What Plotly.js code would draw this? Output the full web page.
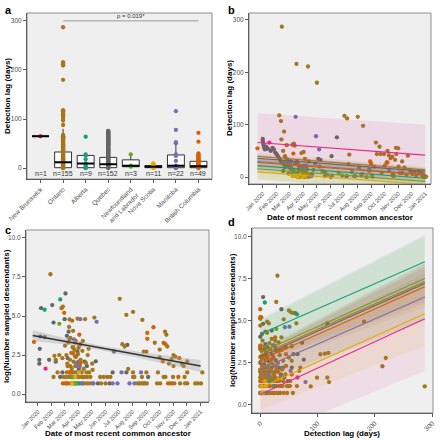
<!DOCTYPE html>
<html><head><meta charset="utf-8">
<script src="https://cdn.plot.ly/plotly-3.0.1.min.js"></script>
<style>html,body{margin:0;padding:0;background:#fff}#chart{width:440px;height:440px}</style>
</head><body><div id="chart"></div>
<script>
// ---------- shared categories ----------
const provinces = ["New Brunswick","Ontario","Alberta","Quebec","Newfoundland and Labrador","Nova Scotia","Manitoba","British Columbia"];
const provinceTicks = ["New Brunswick","Ontario","Alberta","Quebec","Newfoundland<br>and Labrador","Nova Scotia","Manitoba","British Columbia"];
const provinceColors = ["#e7298a","#a6761d","#1b9e77","#666666","#66a61e","#e6ab02","#7570b3","#d95f02"];
const provinceN = [1,155,9,152,3,11,22,49];
const monthTicks = ["2020-01-01","2020-02-01","2020-03-01","2020-04-01","2020-05-01","2020-06-01","2020-07-01","2020-08-01","2020-09-01","2020-10-01","2020-11-01","2020-12-01","2021-01-01"];

// ---------- panel a: boxes ----------
const boxQ1 = [65,1,1,1,3,1,1,1];
const boxMedian = [65,12,9.5,8,5,3,5,4];
const boxQ3 = [65,33,26,22,17,5.5,27,14];
const boxLower = [65,0,0,0,3,0,0,0];
const boxUpper = [65,80,28,52,28,10,53,30];
const pValueText = "p = 0.019*";
const pValueY = 300;

const lagNB = [65];
const lagON = [287,216,213,211,209,180,118,116,113,110,107,105,100,97,88,68,66,65,64,63,62,61,60,58,56,55,54,52,50,48,47,46,45,44,43,42,41,40,39,38,37,36,35,34,33,32,31,30,29,28,27,26,25,24,23,22,21,20,19,18,17,16,15,14,13,12,11,10,9,8,7,6,5,4,3,2,1,0];
const lagAB = [64,28,25,18,10,5,3,1,0];
const lagQC = [76,75,74,73,72,71,70,69,68,67,66,65,64,63,62,61,60,59,58,57,56,55,54,53,52,51,50,49,48,47,46,45,44,43,42,41,40,39,38,37,36,35,34,33,32,31,30,29,28,27,26,25,24,23,22,21,20,19,18,17,16,15,14,13,12,11,10,9,8,7,6,5,4,3,2,1,0];
const lagNL = [28,5,3];
const lagNS = [10,9,8,7,6,5,4,3,2,1,0];
const lagMB = [116,78,53,51,28,25,15,5,3,1,0];
const lagBC = [72,54,30,28,26,24,22,20,18,16,14,12,10,8,6,4,2,1,0];

// ---------- panel b: [province index, MRCA date, detection lag] ----------
const panelB = [
[3,"2020-01-01",73],[3,"2020-01-01",69],[3,"2020-01-02",65],[3,"2020-01-03",61],[3,"2020-01-04",56],[3,"2020-01-06",53],[3,"2020-01-09",58],[3,"2020-01-13",54],[3,"2020-01-19",50],[3,"2020-01-23",56],[3,"2020-01-26",53],[3,"2020-01-29",47],[3,"2020-02-01",44],[3,"2020-02-04",40],[3,"2020-02-07",36],[3,"2020-02-10",31],[3,"2020-02-14",27],[3,"2020-02-18",24],[3,"2020-02-21",19],[3,"2020-02-25",34],[3,"2020-02-28",22],[3,"2020-03-03",17],[3,"2020-03-06",14],[3,"2020-03-10",12],[3,"2020-03-14",26],[3,"2020-03-17",8],[3,"2020-03-20",5],[3,"2020-03-24",11],[3,"2020-03-27",3],[3,"2020-03-31",20],[3,"2020-04-04",2],[3,"2020-04-09",16],[3,"2020-04-14",1],[3,"2020-04-21",6],[3,"2020-05-05",35],[3,"2020-05-10",33],[3,"2020-05-19",10],[3,"2020-06-04",40],[3,"2020-06-16",76],[3,"2020-07-08",2],[3,"2020-08-10",3],[3,"2020-09-04",1],[3,"2020-10-20",5],[3,"2020-12-04",8],[3,"2020-03-01",30],[3,"2020-03-08",6],[3,"2020-03-12",3],[3,"2020-03-22",15],[3,"2020-04-01",9],[3,"2020-02-16",12],
[1,"2020-02-13",287],[1,"2020-03-17",216],[1,"2020-04-12",211],[1,"2020-05-02",180],[1,"2020-02-07",118],[1,"2020-02-11",107],[1,"2020-02-18",87],[1,"2020-02-12",72],[1,"2020-02-24",61],[1,"2020-07-03",117],[1,"2020-07-09",112],[1,"2020-08-02",115],[1,"2020-08-14",98],[1,"2020-07-14",43],[1,"2020-09-12",66],[1,"2020-09-20",58],[1,"2020-09-14",44],[1,"2020-09-22",44],[1,"2020-09-30",44],[1,"2020-10-08",50],[1,"2020-10-11",42],[1,"2020-10-15",36],[1,"2020-10-19",39],[1,"2020-10-25",33],[1,"2020-10-27",56],[1,"2020-10-28",44],[1,"2020-11-23",41],[1,"2020-12-18",10],[1,"2020-12-26",2],[1,"2020-03-08",62],[1,"2020-03-11",64],[1,"2020-03-13",60],[1,"2020-03-28",46],[1,"2020-04-02",48],[1,"2020-04-05",35],[1,"2020-02-16",50],[1,"2020-02-20",40],[1,"2020-02-25",33],[1,"2020-03-02",28],[1,"2020-03-05",20],[1,"2020-03-07",15],[1,"2020-03-10",10],[1,"2020-03-14",5],[1,"2020-03-18",2],[1,"2020-03-20",25],[1,"2020-03-24",18],[1,"2020-03-27",12],[1,"2020-03-30",8],[1,"2020-04-03",0],[1,"2020-04-08",22],[1,"2020-04-14",30],[1,"2020-04-18",6],[1,"2020-04-24",14],[1,"2020-04-28",26],[1,"2020-05-08",20],[1,"2020-05-14",12],[1,"2020-05-25",5],[1,"2020-06-02",0],[1,"2020-06-20",8],[1,"2020-06-28",3],[1,"2020-07-12",25],[1,"2020-07-20",10],[1,"2020-07-28",2],[1,"2020-08-05",18],[1,"2020-08-12",6],[1,"2020-08-22",0],[1,"2020-08-28",12],[1,"2020-09-03",4],[1,"2020-09-08",20],[1,"2020-09-25",8],[1,"2020-10-02",22],[1,"2020-10-06",28],[1,"2020-10-12",12],[1,"2020-10-22",2],[1,"2020-11-02",20],[1,"2020-11-05",8],[1,"2020-11-10",30],[1,"2020-11-15",18],[1,"2020-11-20",4],[1,"2020-11-28",12],[1,"2020-12-03",6],[1,"2020-12-08",9],[1,"2020-12-12",3],[1,"2020-12-22",8],[1,"2020-12-30",0],[1,"2021-01-03",1],[1,"2020-12-28",5],[1,"2020-03-21",0],[1,"2020-03-25",1],[1,"2020-04-10",1],[1,"2020-02-28",7],[1,"2020-05-20",2],[1,"2020-11-01",55],
[6,"2020-03-15",115],[6,"2020-04-30",78],[6,"2020-05-07",53],[6,"2020-03-05",30],[6,"2020-03-20",25],[6,"2020-04-10",15],[6,"2020-03-25",5],[6,"2020-04-20",2],[6,"2020-02-25",28],[6,"2020-06-05",3],[6,"2020-07-25",2],[6,"2020-08-28",15],[6,"2020-03-10",12],[6,"2020-04-02",22],
[7,"2019-12-20",55],[7,"2020-03-10",45],[7,"2020-03-18",30],[7,"2020-03-22",22],[7,"2020-04-02",12],[7,"2020-04-08",8],[7,"2020-08-30",30],[7,"2020-10-08",28],[7,"2020-11-10",8],[7,"2020-09-01",26],[7,"2020-03-28",2],[7,"2020-10-20",3],
[2,"2020-03-12",10],[2,"2020-03-18",2],[2,"2020-03-22",5],[2,"2020-02-20",20],[2,"2020-04-01",3],
[4,"2020-03-10",5],[4,"2020-03-25",2],[4,"2020-02-18",28],
[5,"2020-03-08",2],[5,"2020-03-15",4],[5,"2020-03-20",0],[5,"2020-03-25",6],[5,"2020-04-01",1],[5,"2020-04-05",3],
[0,"2020-01-16",66]
];
// fitted lines per province (order of `provinces`)
const bFitDates = ["2019-12-20","2021-01-01"];
const bFitStart = [66,40,22,36,16,10,30,28];
const bFitEnd   = [42,14,-2,11,-8,-14,5,4];
const bLoStart  = [10,34,8,30,-4,-5,18,19];
const bHiStart  = [122,46,36,42,36,25,42,37];
const bLoEnd    = [-15,8,-16,5,-28,-29,-7,-5];
const bHiEnd    = [100,20,12,17,12,1,17,13];

// ---------- panel c: [province index, MRCA date, log(descendants)] ----------
const panelC = [
[3,"2020-01-08",5.5],[3,"2020-01-06",3.7],[3,"2020-01-16",3.65],[3,"2020-01-05",2.9],[3,"2020-01-04",2.2],[3,"2020-01-04",1.95],[3,"2020-02-02",5.7],[3,"2020-02-05",4.58],[3,"2020-03-03",6.44],[3,"2020-03-06",3.73],[3,"2020-01-26",2.2],[3,"2020-05-10",2.1],[3,"2020-06-20",2.73],[3,"2020-07-20",3.15],[3,"2020-06-17",1.39],[3,"2020-07-18",1.39],[3,"2020-03-12",3.5],[3,"2020-03-20",3.0],[3,"2020-03-25",2.4],[3,"2020-03-28",1.95],[3,"2020-04-02",1.61],[3,"2020-03-15",1.39],[3,"2020-03-18",1.1],[3,"2020-03-22",0.69],[3,"2020-04-08",0.69],[3,"2020-04-12",1.1],[3,"2020-03-08",2.3],[3,"2020-02-20",1.1],[3,"2020-02-25",1.39],[3,"2020-03-30",2.71],[3,"2020-04-05",3.2],[3,"2020-04-15",2.08],[3,"2020-05-15",0.69],[3,"2020-06-10",0.69],[3,"2020-08-28",0.69],[3,"2020-09-05",1.1],[3,"2020-03-01",4.8],[3,"2020-03-10",4.0],[3,"2020-02-10",2.08],[3,"2020-04-20",1.79],
[1,"2020-01-29",7.67],[1,"2020-02-26",5.6],[1,"2020-02-23",5.5],[1,"2020-03-12",4.78],[1,"2020-03-18",4.7],[1,"2020-03-30",4.83],[1,"2020-05-07",4.9],[1,"2020-03-11",4.3],[1,"2020-03-20",4.05],[1,"2020-04-01",2.95],[1,"2020-05-02",1.95],[1,"2020-05-03",1.55],[1,"2020-05-20",1.1],[1,"2020-05-28",1.1],[1,"2020-06-05",1.1],[1,"2020-06-12",1.1],[1,"2020-06-01",0.69],[1,"2020-05-22",0.69],[1,"2020-07-03",6.1],[1,"2020-07-18",5.07],[1,"2020-08-02",5.26],[1,"2020-08-23",4.75],[1,"2020-10-13",4.0],[1,"2020-10-16",3.8],[1,"2020-09-20",3.29],[1,"2020-07-09",3.2],[1,"2020-07-14",3.05],[1,"2020-08-26",2.72],[1,"2020-09-01",2.72],[1,"2020-10-01",2.85],[1,"2020-10-14",3.2],[1,"2020-10-18",3.05],[1,"2020-11-01",2.5],[1,"2020-11-05",2.4],[1,"2020-12-02",2.1],[1,"2020-10-28",2.25],[1,"2020-10-01",2.35],[1,"2020-10-22",1.95],[1,"2020-11-01",1.8],[1,"2020-11-20",1.95],[1,"2020-11-24",1.8],[1,"2021-01-05",1.39],[1,"2020-08-02",1.39],[1,"2020-09-01",1.39],[1,"2020-09-27",1.39],[1,"2020-12-02",1.39],[1,"2020-07-22",1.61],[1,"2020-08-02",1.1],[1,"2020-08-05",1.1],[1,"2020-08-22",1.1],[1,"2020-10-10",1.1],[1,"2020-10-14",1.1],[1,"2020-10-31",1.1],[1,"2020-11-26",1.1],[1,"2020-08-12",0.69],[1,"2020-08-16",0.69],[1,"2020-08-20",0.69],[1,"2020-08-25",0.69],[1,"2020-09-02",0.69],[1,"2020-09-25",0.69],[1,"2020-10-02",0.69],[1,"2020-10-25",0.69],[1,"2020-10-29",0.69],[1,"2020-11-03",0.69],[1,"2020-11-16",0.69],[1,"2020-11-27",0.69],[1,"2020-12-02",0.69],[1,"2020-12-20",0.69],[1,"2020-12-26",0.69],[1,"2021-01-02",0.69],
[1,"2020-02-25",2.3],[1,"2020-03-02",3.1],[1,"2020-03-05",2.5],[1,"2020-03-08",1.79],[1,"2020-03-09",3.3],[1,"2020-03-13",2.2],[1,"2020-03-14",3.6],[1,"2020-03-16",2.64],[1,"2020-03-17",1.61],[1,"2020-03-19",3.0],[1,"2020-03-21",2.08],[1,"2020-03-23",2.83],[1,"2020-03-24",1.39],[1,"2020-03-26",3.4],[1,"2020-03-27",2.4],[1,"2020-03-29",1.95],[1,"2020-03-31",2.56],[1,"2020-04-03",3.1],[1,"2020-04-04",1.79],[1,"2020-04-06",2.2],[1,"2020-04-08",1.39],[1,"2020-04-10",2.77],[1,"2020-04-13",1.61],[1,"2020-04-16",4.8],[1,"2020-04-18",2.0],[1,"2020-04-22",2.5],[1,"2020-04-25",1.39],[1,"2020-04-28",1.1],[1,"2020-02-28",1.1],[1,"2020-03-04",1.1],[1,"2020-03-10",1.1],[1,"2020-03-16",1.1],[1,"2020-03-22",1.1],[1,"2020-03-28",1.1],[1,"2020-04-03",1.1],[1,"2020-04-09",1.1],[1,"2020-04-15",1.1],[1,"2020-04-21",1.1],[1,"2020-02-26",0.69],[1,"2020-03-03",0.69],[1,"2020-03-09",0.69],[1,"2020-03-15",0.69],[1,"2020-03-21",0.69],[1,"2020-03-27",0.69],[1,"2020-04-02",0.69],[1,"2020-04-14",0.69],[1,"2020-04-20",0.69],[1,"2020-04-26",0.69],[1,"2020-05-02",0.69],[1,"2020-03-06",1.39],[1,"2020-03-12",1.39],[1,"2020-03-18",1.39],[1,"2020-03-30",1.39],[1,"2020-04-19",1.39],[1,"2020-03-07",1.95],[1,"2020-03-14",1.79],[1,"2020-03-25",1.79],[1,"2020-04-01",2.08],[1,"2020-04-11",3.4],[1,"2020-04-24",2.9],[1,"2020-02-18",2.5],[1,"2020-02-10",2.2],[1,"2020-02-14",1.39],[1,"2020-02-05",1.1],[1,"2020-02-07",2.45],
[7,"2019-12-23",3.34],[7,"2020-02-29",5.2],[7,"2020-09-03",3.92],[7,"2020-09-03",3.54],[7,"2020-09-17",4.28],[7,"2020-10-10",3.28],[7,"2020-11-14",2.3],[7,"2020-10-08",2.1],[7,"2020-10-20",0.69],[7,"2020-03-25",3.3],[7,"2020-04-03",3.8],[7,"2020-03-20",2.6],[7,"2020-03-12",1.39],[7,"2020-04-06",2.0],[7,"2020-03-05",0.69],[7,"2020-11-12",1.1],
[2,"2020-01-16",5.4],[2,"2020-02-20",6.06],[2,"2020-04-01",0.69],[2,"2020-03-20",1.1],
[4,"2020-02-18",4.5],[4,"2020-03-20",1.1],[4,"2020-03-26",0.69],
[5,"2020-03-25",1.1],[5,"2020-03-18",0.69],[5,"2020-04-02",1.39],
[6,"2020-05-12",4.63],[6,"2020-03-22",3.5],[6,"2020-04-05",4.8],[6,"2020-03-28",2.0],[6,"2020-04-02",1.79],[6,"2020-03-30",1.39],[6,"2020-06-17",0.69],[6,"2020-07-07",1.39],[6,"2020-05-05",0.69],[6,"2020-06-28",0.69],[6,"2020-07-25",0.69],[6,"2020-08-05",0.69],[6,"2020-08-20",1.39],[6,"2020-04-10",0.69],
[0,"2020-01-18",1.63]
];
const cFitDates = ["2019-12-20","2020-03-01","2020-05-15","2020-08-15","2021-01-01"];
const cFitValues = [3.75,3.38,2.99,2.52,1.80];
const cFitLower = [3.40,3.17,2.84,2.32,1.42];
const cFitUpper = [4.10,3.59,3.14,2.72,2.18];

// ---------- panel d: [province index, detection lag, log(descendants)] ----------
const panelD = [
[3,5,6.39],[3,37,5.67],[3,61,5.43],[3,5,4.8],[3,117,4.83],[3,0,4.03],[3,73,3.67],[3,76,2.67],[3,0,0.69],[3,5,0.69],[3,10,0.69],[3,16,0.69],[3,23,0.69],[3,32,0.69],[3,2,1.1],[3,8,1.1],[3,15,1.1],[3,24,1.1],[3,36,1.1],[3,49,1.1],[3,1,1.39],[3,7,1.39],[3,14,1.39],[3,22,1.39],[3,30,1.39],[3,48,1.39],[3,3,1.61],[3,9,1.61],[3,17,1.61],[3,25,1.61],[3,42,1.61],[3,0,1.95],[3,6,1.95],[3,14,1.95],[3,26,1.95],[3,36,1.79],[3,4,2.2],[3,12,2.2],[3,20,2.2],[3,33,2.2],[3,55,2.2],[3,0,2.48],[3,7,2.4],[3,15,2.56],[3,27,2.64],[3,40,2.2],[3,3,2.77],[3,11,2.89],[3,20,3.0],[3,58,3.0],[3,0,3.3],[3,6,3.26],[3,13,3.4],[3,26,3.43],[3,65,3.0],[3,9,3.6],[3,3,4.2],[3,20,4.4],
[1,30,7.66],[1,28,6.1],[1,0,5.67],[1,0,5.1],[1,50,5.6],[1,53,5.5],[1,57,5.45],[1,41,5.07],[1,12,4.93],[1,15,4.83],[1,63,4.83],[1,181,4.93],[1,9,4.33],[1,12,4.27],[1,20,3.9],[1,26,3.8],[1,32,3.7],[1,37,4.0],[1,55,3.47],[1,105,3.0],[1,113,3.03],[1,119,3.07],[1,219,2.77],[1,213,2.28],[1,99,1.6],[1,117,1.6],[1,120,1.34],[1,88,1.08],[1,68,2.0],[1,70,2.2],[1,50,2.8],[1,55,2.6],[1,287,1.08],
[1,0,0.69],[1,4,0.69],[1,7,0.69],[1,11,0.69],[1,14,0.69],[1,18,0.69],[1,21,0.69],[1,25,0.69],[1,29,0.69],[1,35,0.69],[1,41,0.69],[1,47,0.69],[1,57,0.69],[1,0,1.1],[1,3,1.1],[1,6,1.1],[1,9,1.1],[1,13,1.1],[1,17,1.1],[1,22,1.1],[1,27,1.1],[1,33,1.1],[1,39,1.1],[1,46,1.1],[1,52,1.1],[1,64,1.1],[1,0,1.39],[1,5,1.39],[1,10,1.39],[1,15,1.39],[1,20,1.39],[1,26,1.39],[1,33,1.39],[1,40,1.39],[1,52,1.39],[1,0,1.61],[1,6,1.61],[1,12,1.61],[1,19,1.61],[1,27,1.61],[1,35,1.61],[1,1,1.79],[1,8,1.79],[1,16,1.79],[1,24,1.79],[1,44,1.79],[1,2,1.95],[1,11,1.95],[1,21,1.95],[1,31,1.95],[1,0,2.08],[1,7,2.08],[1,18,2.08],[1,28,2.08],[1,38,2.08],[1,3,2.3],[1,14,2.3],[1,24,2.3],[1,45,2.3],[1,1,2.56],[1,9,2.64],[1,19,2.5],[1,31,2.48],[1,40,2.6],[1,0,2.83],[1,6,2.9],[1,13,2.77],[1,23,2.83],[1,34,2.94],[1,45,3.0],[1,2,3.2],[1,10,3.14],[1,17,3.3],[1,27,3.18],[1,38,3.26],[1,0,3.5],[1,8,3.43],[1,22,3.53],[1,44,3.4],[1,4,3.8],[1,16,3.66],[1,0,4.7],[1,2,5.2],
[7,0,5.2],[7,0,3.4],[7,1,3.5],[7,10,3.0],[7,20,2.7],[7,33,3.2],[7,2,1.39],[7,28,1.1],[7,45,3.4],[7,3,2.3],[7,30,2.0],[7,5,0.69],[7,55,1.79],[7,26,4.0],
[2,8,6.07],[2,64,5.37],[2,25,1.1],[2,3,0.69],[2,18,1.39],[2,10,0.69],
[4,28,4.5],[4,5,1.1],[4,3,0.69],
[5,2,1.1],[5,5,0.69],[5,8,1.39],[5,3,0.69],[5,10,1.1],
[6,43,4.6],[6,51,4.63],[6,79,1.34],[6,28,2.3],[6,15,1.79],[6,5,1.39],[6,25,3.5],[6,2,0.69],[6,53,2.0],[6,1,1.1],
[0,65,1.61]
];
const dFitLag   = [0,287];
const dFitStart = [0.6,2.95,4.2,2.85,3.1,1.0,2.1,2.65];
const dFitEnd   = [5.1,7.3,8.5,7.2,7.5,5.4,6.4,7.0];
const dLoStart  = [-2.0,2.6,3.3,2.5,1.2,-0.3,1.4,2.2];
const dHiStart  = [3.2,3.3,5.1,3.2,5.0,2.3,2.8,3.1];
const dLoEnd    = [2.0,6.2,6.9,6.0,5.0,3.5,5.0,5.8];
const dHiEnd    = [8.2,8.4,10.1,8.4,10.0,7.3,7.8,8.2];

// ---------- helpers ----------
const FONT = "Liberation Sans, Arial, sans-serif";
function rgba(hex, a){const n=parseInt(hex.slice(1),16);return `rgba(${n>>16&255},${n>>8&255},${n&255},${a})`;}
const drawOrder = [3,1,6,7,2,4,5,0];
const MS = 4.3;
const traces = [];

// panel a
traces.push({type:"box", x:provinces, q1:boxQ1, median:boxMedian, q3:boxQ3, lowerfence:boxLower, upperfence:boxUpper,
  width:0.75, whiskerwidth:0, fillcolor:"#ffffff", line:{color:"#333333",width:1}, boxpoints:false,
  xaxis:"x", yaxis:"y", hoverinfo:"skip"});
const lagArrays = [lagNB,lagON,lagAB,lagQC,lagNL,lagNS,lagMB,lagBC];
lagArrays.forEach((arr,i)=>{
  traces.push({type:"scatter", mode:"markers", x:arr.map(()=>provinces[i]), y:arr,
    marker:{size:MS, color:provinceColors[i]}, xaxis:"x", yaxis:"y", hoverinfo:"skip"});
});

function scatterByProvince(rows, xa, ya){
  drawOrder.forEach(p=>{
    const r = rows.filter(d=>d[0]===p);
    if(!r.length) return;
    traces.push({type:"scatter", mode:"markers", x:r.map(d=>d[1]), y:r.map(d=>d[2]),
      marker:{size:MS, color:provinceColors[p]}, xaxis:xa, yaxis:ya, hoverinfo:"skip"});
  });
}
function bandsAndLines(xs, start, end, lo0, hi0, lo1, hi1, xa, ya, alpha){
  drawOrder.forEach(p=>{
    traces.push({type:"scatter", mode:"lines", x:[xs[0],xs[1],xs[1],xs[0]], y:[hi0[p],hi1[p],lo1[p],lo0[p]],
      fill:"toself", fillcolor:rgba(provinceColors[p],alpha), line:{width:0}, xaxis:xa, yaxis:ya, hoverinfo:"skip"});
  });
  drawOrder.forEach(p=>{
    traces.push({type:"scatter", mode:"lines", x:xs, y:[start[p],end[p]],
      line:{color:provinceColors[p],width:1.1}, xaxis:xa, yaxis:ya, hoverinfo:"skip"});
  });
}
// panel b
scatterByProvince(panelB,"x2","y2");
bandsAndLines(bFitDates,bFitStart,bFitEnd,bLoStart,bHiStart,bLoEnd,bHiEnd,"x2","y2",0.11);
// panel c
scatterByProvince(panelC,"x3","y3");
traces.push({type:"scatter", mode:"lines", x:cFitDates.concat(cFitDates.slice().reverse()),
  y:cFitUpper.concat(cFitLower.slice().reverse()), fill:"toself", fillcolor:"rgba(160,160,160,0.35)",
  line:{width:0}, xaxis:"x3", yaxis:"y3", hoverinfo:"skip"});
traces.push({type:"scatter", mode:"lines", x:cFitDates, y:cFitValues, line:{color:"#333333",width:1.4},
  xaxis:"x3", yaxis:"y3", hoverinfo:"skip"});
// panel d
scatterByProvince(panelD,"x4","y4");
bandsAndLines(dFitLag,dFitStart,dFitEnd,dLoStart,dHiStart,dLoEnd,dHiEnd,"x4","y4",0.09);

// ---------- layout ----------
const tickFont = {family:FONT, size:6.5, color:"#4d4d4d"};
const dateTickFont = {family:FONT, size:5.8, color:"#4d4d4d"};
const titleFont = {family:FONT, size:8, color:"#000000", weight:"bold"};
function ax(extra){
  return Object.assign({showgrid:false, zeroline:false, showline:true, linecolor:"#333333", linewidth:1,
    ticks:"outside", ticklen:3, tickcolor:"#333333", tickwidth:0.8, tickfont:tickFont, fixedrange:true, automargin:false}, extra);
}
const P = v=>v/440;
const layout = {
  width:440, height:440, margin:{l:0,r:0,t:0,b:0}, paper_bgcolor:"#ffffff", plot_bgcolor:"#efefef",
  showlegend:false, font:{family:FONT},
  xaxis: ax({domain:[P(27),P(212)], anchor:"y", type:"category", categoryarray:provinces,
    tickvals:provinces, ticktext:provinceTicks, tickangle:-45, range:[-0.6,7.6]}),
  yaxis: ax({domain:[1-P(179),1-P(13)], anchor:"x", range:[-22,316], tickvals:[0,100,200,300]}),
  xaxis2: ax({domain:[P(249),P(431)], anchor:"y2", type:"date", range:["2019-12-01","2021-01-14"],
    tickvals:monthTicks, tickformat:"%b %Y", tickangle:-45, tickfont:dateTickFont}),
  yaxis2: ax({domain:[1-P(184),1-P(13)], anchor:"x2", range:[-13,313], tickvals:[0,100,200,300]}),
  xaxis3: ax({domain:[P(26),P(209)], anchor:"y3", type:"date", range:["2019-12-05","2021-01-20"],
    tickvals:monthTicks, tickformat:"%b %Y", tickangle:-45, tickfont:dateTickFont}),
  yaxis3: ax({domain:[1-P(402),1-P(230)], anchor:"x3", range:[-0.5,10.5], tickvals:[0,2.5,5,7.5,10],
    ticktext:["0.0","2.5","5.0","7.5","10.0"]}),
  xaxis4: ax({domain:[P(252),P(433)], anchor:"y4", range:[-14.35,301.35], tickvals:[0,100,200,300], tickangle:-45}),
  yaxis4: ax({domain:[1-P(413),1-P(228)], anchor:"x4", range:[-0.5,10.5], tickvals:[0,2.5,5,7.5,10],
    ticktext:["0.0","2.5","5.0","7.5","10.0"]}),
  shapes: [], annotations: []
};
// panel borders
[["x","y"],["x2","y2"],["x3","y3"],["x4","y4"]].forEach(([xa,ya])=>{
  layout.shapes.push({type:"rect", xref:xa+" domain", yref:ya+" domain", x0:0,x1:1,y0:0,y1:1,
    line:{color:"#8c8c8c",width:1}, fillcolor:"rgba(0,0,0,0)", layer:"above"});
});
// thick medians (panel a)
boxMedian.forEach((m,i)=>{
  layout.shapes.push({type:"line", xref:"x", yref:"y", x0:i-0.375, x1:i+0.375, y0:m, y1:m,
    line:{color:"#000000",width:2}, layer:"above"});
});
// p-value bracket
layout.shapes.push({type:"line", xref:"x", yref:"y", x0:1, x1:7, y0:pValueY, y1:pValueY, line:{color:"#9a9a9a",width:1}});
layout.annotations.push({xref:"x", yref:"y", x:4, y:pValueY, text:pValueText, showarrow:false, yanchor:"bottom",
  font:{family:FONT,size:6,color:"#333333"}});
// n labels
provinceN.forEach((n,i)=>{
  layout.annotations.push({xref:"x", yref:"y", x:i, y:-11, text:"n="+n, showarrow:false,
    font:{family:FONT,size:7,color:"#333333"}});
});
// axis titles
const axisTitles = [
  ["Detection lag (days)", 8, 96, -90],
  ["Detection lag (days)", 230, 98, -90],
  ["Date of most recent common ancestor", 340, 217, 0],
  ["log(Number sampled descendants)", 6, 316, -90],
  ["Date of most recent common ancestor", 118, 433, 0],
  ["log(Number sampled descendants)", 232, 320, -90],
  ["Detection lag (days)", 342, 433, 0]
];
axisTitles.forEach(([t,x,y,a])=>{
  layout.annotations.push({xref:"paper", yref:"paper", x:P(x), y:1-P(y), xanchor:"center", yanchor:"middle",
    text:t, textangle:a, showarrow:false, font:titleFont});
});
// panel letters
[["a",3,2],["b",226,2],["c",3,222],["d",226,214]].forEach(([t,x,y])=>{
  layout.annotations.push({xref:"paper", yref:"paper", x:P(x), y:1-P(y), xanchor:"left", yanchor:"top",
    text:"<b>"+t+"</b>", showarrow:false, font:{family:FONT,size:11,color:"#000000"}});
});

Plotly.newPlot("chart", traces, layout, {staticPlot:true, displayModeBar:false});
</script>
</body></html>
